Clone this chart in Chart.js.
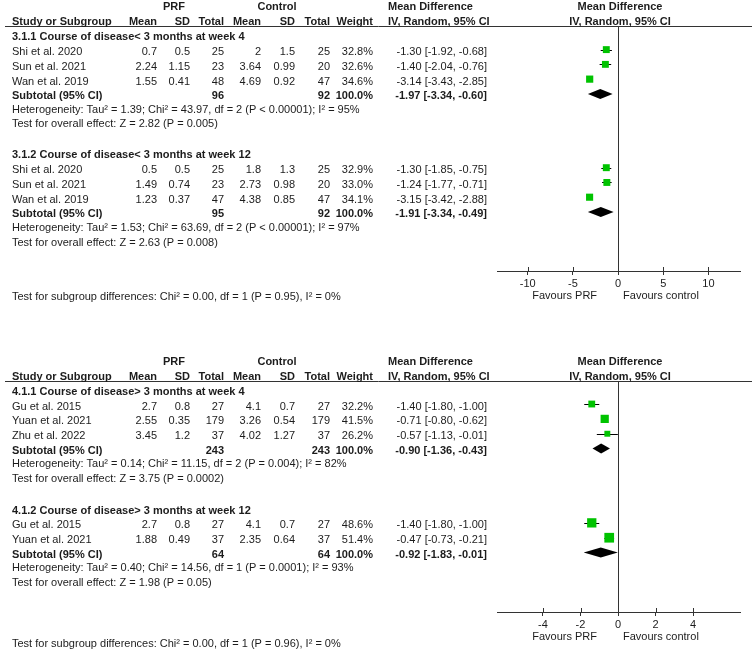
<!DOCTYPE html>
<html>
<head>
<meta charset="utf-8">
<title>Forest plot - PRF vs control</title>
<script src="https://cdn.jsdelivr.net/npm/chart.js@4.4.1/dist/chart.umd.min.js"></script>
<style>
    html, body { margin: 0; padding: 0; background: #fff; overflow: hidden; }
    #wrap { position: relative; width: 752px; height: 651px; }
    .panel { position: absolute; left: 0; width: 752px; }
    #top-panel { top: 0; height: 326px; }
    #bottom-panel { top: 326px; height: 325px; }
</style>
</head>
<body>
<div id="wrap">
    <div class="panel" id="top-panel"><canvas id="chart-top" width="752" height="326"></canvas></div>
    <div class="panel" id="bottom-panel"><canvas id="chart-bottom" width="752" height="325"></canvas></div>
</div>
<script>
// ---- Data ----

// 3.1.1 course < 3 months, week 4
const g1Title = '3.1.1 Course of disease< 3 months at week 4';
const g1Rows = [
    ['Shi et al. 2020', '0.7', '0.5', '25', '2', '1.5', '25'],
    ['Sun et al. 2021', '2.24', '1.15', '23', '3.64', '0.99', '20'],
    ['Wan et al. 2019', '1.55', '0.41', '48', '4.69', '0.92', '47']
];
const g1Weight = [32.8, 32.6, 34.6];
const g1MD = [-1.30, -1.40, -3.14];
const g1Lo = [-1.92, -2.04, -3.43];
const g1Hi = [-0.68, -0.76, -2.85];
const g1Totals = ['96', '92'];
const g1Pooled = [-1.97, -3.34, -0.60];
const g1Het = 'Heterogeneity: Tau\u00B2 = 1.39; Chi\u00B2 = 43.97, df = 2 (P < 0.00001); I\u00B2 = 95%';
const g1Z = 'Test for overall effect: Z = 2.82 (P = 0.005)';

// 3.1.2 course < 3 months, week 12
const g2Title = '3.1.2 Course of disease< 3 months at week 12';
const g2Rows = [
    ['Shi et al. 2020', '0.5', '0.5', '25', '1.8', '1.3', '25'],
    ['Sun et al. 2021', '1.49', '0.74', '23', '2.73', '0.98', '20'],
    ['Wan et al. 2019', '1.23', '0.37', '47', '4.38', '0.85', '47']
];
const g2Weight = [32.9, 33.0, 34.1];
const g2MD = [-1.30, -1.24, -3.15];
const g2Lo = [-1.85, -1.77, -3.42];
const g2Hi = [-0.75, -0.71, -2.88];
const g2Totals = ['95', '92'];
const g2Pooled = [-1.91, -3.34, -0.49];
const g2Het = 'Heterogeneity: Tau\u00B2 = 1.53; Chi\u00B2 = 63.69, df = 2 (P < 0.00001); I\u00B2 = 97%';
const g2Z = 'Test for overall effect: Z = 2.63 (P = 0.008)';

// 4.1.1 course > 3 months, week 4
const g3Title = '4.1.1 Course of disease> 3 months at week 4';
const g3Rows = [
    ['Gu et al. 2015', '2.7', '0.8', '27', '4.1', '0.7', '27'],
    ['Yuan et al. 2021', '2.55', '0.35', '179', '3.26', '0.54', '179'],
    ['Zhu et al. 2022', '3.45', '1.2', '37', '4.02', '1.27', '37']
];
const g3Weight = [32.2, 41.5, 26.2];
const g3MD = [-1.40, -0.71, -0.57];
const g3Lo = [-1.80, -0.80, -1.13];
const g3Hi = [-1.00, -0.62, -0.01];
const g3Totals = ['243', '243'];
const g3Pooled = [-0.90, -1.36, -0.43];
const g3Het = 'Heterogeneity: Tau\u00B2 = 0.14; Chi\u00B2 = 11.15, df = 2 (P = 0.004); I\u00B2 = 82%';
const g3Z = 'Test for overall effect: Z = 3.75 (P = 0.0002)';

// 4.1.2 course > 3 months, week 12
const g4Title = '4.1.2 Course of disease> 3 months at week 12';
const g4Rows = [
    ['Gu et al. 2015', '2.7', '0.8', '27', '4.1', '0.7', '27'],
    ['Yuan et al. 2021', '1.88', '0.49', '37', '2.35', '0.64', '37']
];
const g4Weight = [48.6, 51.4];
const g4MD = [-1.40, -0.47];
const g4Lo = [-1.80, -0.73];
const g4Hi = [-1.00, -0.21];
const g4Totals = ['64', '64'];
const g4Pooled = [-0.92, -1.83, -0.01];
const g4Het = 'Heterogeneity: Tau\u00B2 = 0.40; Chi\u00B2 = 14.56, df = 1 (P = 0.0001); I\u00B2 = 93%';
const g4Z = 'Test for overall effect: Z = 1.98 (P = 0.05)';

const topTicks = [-10, -5, 0, 5, 10];
const bottomTicks = [-4, -2, 0, 2, 4];
const topSubgroupTest = 'Test for subgroup differences: Chi\u00B2 = 0.00, df = 1 (P = 0.95), I\u00B2 = 0%';
const bottomSubgroupTest = 'Test for subgroup differences: Chi\u00B2 = 0.00, df = 1 (P = 0.96), I\u00B2 = 0%';

// ---- Styling / layout ----
const FONT = '"Liberation Sans", Arial, Helvetica, sans-serif';
const TEXT_COLOR = '#1c1c1c';
const LINE_COLOR = '#333333';
const GREEN = '#00c300';

// right edges of the table columns
const COL_NAME = 12;
const COL_RIGHT = [157, 190, 224, 261, 295, 330];
const COL_WEIGHT = 373;
const COL_CI = 487;
const HEAD_MD_LEFT = 388;
const HEAD_PLOT_CENTER = 620;

function group(title, rows, weight, md, lo, hi, totals, pooled, het, z) {
    return { title, rows, weight, md, lo, hi, totals, pooled, het, z };
}

// assign a row index to every group (heading, studies, subtotal, het, z, blank)
function layoutRows(groups) {
    let r = 0;
    groups.forEach(g => {
        g.start = r;
        r += g.rows.length + 5;
    });
    return groups;
}

function fmtCI(m, l, h) {
    return `${m.toFixed(2)} [${l.toFixed(2)}, ${h.toFixed(2)}]`;
}

function drawText(ctx, str, x, y, align, bold) {
    ctx.font = (bold ? 'bold ' : '') + '11px ' + FONT;
    ctx.textAlign = align;
    ctx.textBaseline = 'middle';
    ctx.fillStyle = TEXT_COLOR;
    ctx.fillText(str, x, y);
}

function hLine(ctx, x1, x2, y) {
    ctx.beginPath();
    ctx.moveTo(x1, Math.round(y) + 0.5);
    ctx.lineTo(x2, Math.round(y) + 0.5);
    ctx.stroke();
}

function vLine(ctx, x, y1, y2) {
    ctx.beginPath();
    ctx.moveTo(Math.round(x) + 0.5, y1);
    ctx.lineTo(Math.round(x) + 0.5, y2);
    ctx.stroke();
}

const forestPlugin = {
    id: 'forest',
    beforeDatasetsDraw(chart) {
        const { ctx, chartArea, scales: { x, y } } = chart;
        const cfg = chart.options.plugins.forest;
        ctx.save();
        ctx.strokeStyle = LINE_COLOR;
        ctx.lineWidth = 1;

        // header rule across the full width
        hLine(ctx, 5, chart.width, chartArea.top);
        // line of no effect
        vLine(ctx, x.getPixelForValue(0), chartArea.top, chartArea.bottom);
        // tick marks above the axis
        x.ticks.forEach(t => {
            vLine(ctx, x.getPixelForValue(t.value), chartArea.bottom - 4, chartArea.bottom);
        });

        // confidence interval whiskers
        ctx.strokeStyle = '#000';
        cfg.groups.forEach(g => {
            g.md.forEach((m, i) => {
                const py = y.getPixelForValue(g.start + 1 + i);
                hLine(ctx, x.getPixelForValue(g.lo[i]), x.getPixelForValue(g.hi[i]), py);
            });
        });
        ctx.restore();
    },
    afterDatasetsDraw(chart) {
        const { ctx, chartArea, scales: { x, y } } = chart;
        const cfg = chart.options.plugins.forest;
        ctx.save();

        // pooled diamonds
        ctx.fillStyle = '#000';
        cfg.groups.forEach(g => {
            const py = y.getPixelForValue(g.start + g.rows.length + 1);
            const [m, l, h] = g.pooled;
            ctx.beginPath();
            ctx.moveTo(x.getPixelForValue(l), py);
            ctx.lineTo(x.getPixelForValue(m), py - 5);
            ctx.lineTo(x.getPixelForValue(h), py);
            ctx.lineTo(x.getPixelForValue(m), py + 5);
            ctx.closePath();
            ctx.fill();
        });

        // column headers
        const h1 = chartArea.top - 19;
        const h2 = chartArea.top - 4;
        drawText(ctx, 'PRF', 174, h1, 'center', true);
        drawText(ctx, 'Control', 277, h1, 'center', true);
        drawText(ctx, 'Mean Difference', HEAD_MD_LEFT, h1, 'left', true);
        drawText(ctx, 'Mean Difference', HEAD_PLOT_CENTER, h1, 'center', true);
        drawText(ctx, 'Study or Subgroup', COL_NAME, h2, 'left', true);
        ['Mean', 'SD', 'Total', 'Mean', 'SD', 'Total'].forEach((s, i) => {
            drawText(ctx, s, COL_RIGHT[i], h2, 'right', true);
        });
        drawText(ctx, 'Weight', COL_WEIGHT, h2, 'right', true);
        drawText(ctx, 'IV, Random, 95% CI', HEAD_MD_LEFT, h2, 'left', true);
        drawText(ctx, 'IV, Random, 95% CI', HEAD_PLOT_CENTER, h2, 'center', true);

        // table body (text sits a little below the marker line)
        const rowY = r => y.getPixelForValue(r) + 2.5;
        const noteY = r => y.getPixelForValue(r) + 1;
        cfg.groups.forEach(g => {
            drawText(ctx, g.title, COL_NAME, rowY(g.start), 'left', true);
            g.rows.forEach((row, i) => {
                const py = rowY(g.start + 1 + i);
                drawText(ctx, row[0], COL_NAME, py, 'left', false);
                row.slice(1).forEach((v, j) => drawText(ctx, v, COL_RIGHT[j], py, 'right', false));
                drawText(ctx, g.weight[i].toFixed(1) + '%', COL_WEIGHT, py, 'right', false);
                drawText(ctx, fmtCI(g.md[i], g.lo[i], g.hi[i]), COL_CI, py, 'right', false);
            });
            const sy = rowY(g.start + g.rows.length + 1);
            drawText(ctx, 'Subtotal (95% CI)', COL_NAME, sy, 'left', true);
            drawText(ctx, g.totals[0], COL_RIGHT[2], sy, 'right', true);
            drawText(ctx, g.totals[1], COL_RIGHT[5], sy, 'right', true);
            drawText(ctx, '100.0%', COL_WEIGHT, sy, 'right', true);
            drawText(ctx, fmtCI(g.pooled[0], g.pooled[1], g.pooled[2]), COL_CI, sy, 'right', true);
            drawText(ctx, g.het, COL_NAME, noteY(g.start + g.rows.length + 2), 'left', false);
            drawText(ctx, g.z, COL_NAME, noteY(g.start + g.rows.length + 3), 'left', false);
        });

        // axis captions and subgroup test
        const zero = x.getPixelForValue(0);
        const fy = chartArea.bottom + 25;
        drawText(ctx, 'Favours PRF', zero - 21, fy, 'right', false);
        drawText(ctx, 'Favours control', zero + 5, fy, 'left', false);
        drawText(ctx, cfg.subgroupText, COL_NAME, chartArea.bottom + cfg.subgroupOffset, 'left', false);

        ctx.restore();
    }
};

function makeForest(canvasId, groups, ticks, xMin, xMax, yMin, yMax, padTop, padBottom, subgroupText, subgroupOffset) {
    layoutRows(groups);
    const points = [];
    const radii = [];
    groups.forEach(g => {
        g.md.forEach((m, i) => {
            points.push({ x: m, y: g.start + 1 + i });
            // square side grows with study weight
            radii.push((2 + g.weight[i] * 0.15) / Math.SQRT2);
        });
    });

    return new Chart(document.getElementById(canvasId), {
        type: 'scatter',
        data: {
            datasets: [{
                data: points,
                pointStyle: 'rect',
                pointRadius: radii,
                pointBackgroundColor: GREEN,
                pointBorderWidth: 0,
                pointBorderColor: GREEN
            }]
        },
        options: {
            responsive: false,
            animation: false,
            devicePixelRatio: 1,
            layout: { padding: { left: 497, right: 12, top: padTop, bottom: padBottom } },
            plugins: {
                legend: { display: false },
                tooltip: { enabled: false },
                forest: { groups, subgroupText, subgroupOffset }
            },
            scales: {
                x: {
                    type: 'linear',
                    min: xMin,
                    max: xMax,
                    afterBuildTicks: scale => {
                        scale.ticks = ticks.map(v => ({ value: v }));
                    },
                    afterFit: scale => {
                        scale.height = 30;
                    },
                    grid: {
                        display: true,
                        drawOnChartArea: false,
                        drawTicks: true,
                        tickLength: 4,
                        color: LINE_COLOR
                    },
                    border: { display: true, color: LINE_COLOR, width: 1 },
                    ticks: {
                        color: TEXT_COLOR,
                        padding: 2,
                        maxRotation: 0,
                        font: { family: FONT, size: 11 }
                    }
                },
                y: {
                    type: 'linear',
                    display: false,
                    reverse: true,
                    min: yMin,
                    max: yMax
                }
            }
        },
        plugins: [forestPlugin]
    });
}

makeForest('chart-top',
    [group(g1Title, g1Rows, g1Weight, g1MD, g1Lo, g1Hi, g1Totals, g1Pooled, g1Het, g1Z),
     group(g2Title, g2Rows, g2Weight, g2MD, g2Lo, g2Hi, g2Totals, g2Pooled, g2Het, g2Z)],
    topTicks, -13.4, 13.5, -0.6, 16.0, 26, 25, topSubgroupTest, 26);

makeForest('chart-bottom',
    [group(g3Title, g3Rows, g3Weight, g3MD, g3Lo, g3Hi, g3Totals, g3Pooled, g3Het, g3Z),
     group(g4Title, g4Rows, g4Weight, g4MD, g4Lo, g4Hi, g4Totals, g4Pooled, g4Het, g4Z)],
    bottomTicks, -6.45, 6.5, -0.55, 15.0, 55, 9, bottomSubgroupTest, 32);
</script>
</body>
</html>
